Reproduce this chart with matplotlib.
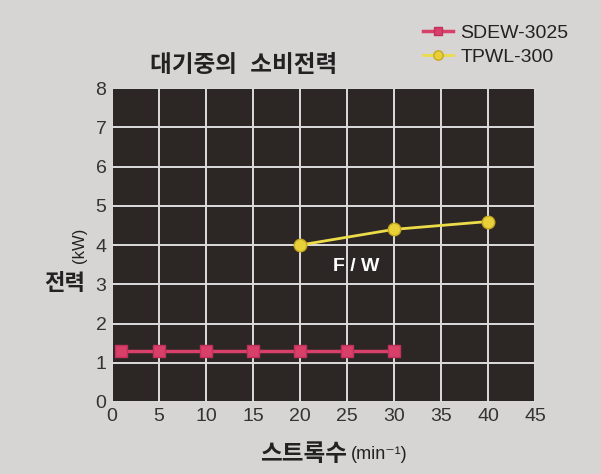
import matplotlib
matplotlib.use("Agg")
import matplotlib.pyplot as plt

sdew_x = [1, 5, 10, 15, 20, 25, 30]
sdew_y = [1.3, 1.3, 1.3, 1.3, 1.3, 1.3, 1.3]
tpwl_x = [20, 30, 40]
tpwl_y = [4.0, 4.4, 4.6]
x_ticks = [0, 5, 10, 15, 20, 25, 30, 35, 40, 45]
y_ticks = [0, 1, 2, 3, 4, 5, 6, 7, 8]
series_names = ["SDEW-3025", "TPWL-300"]
title = "대기중의  소비전력"

FONT = ["Liberation Sans", "Noto Sans CJK KR", "DejaVu Sans"]
plt.rcParams["font.family"] = FONT

fig = plt.figure(figsize=(6.01, 4.74), dpi=100, facecolor="#d6d5d3")
ax = fig.add_axes([0.1864, 0.152, 0.704, 0.662])
ax.set_facecolor("#2c2725")

ax.set_xlim(0, 45)
ax.set_ylim(0, 8)
ax.set_xticks(x_ticks)
ax.set_yticks(y_ticks)
ax.tick_params(length=0, labelsize=14, colors="#333333", pad=4)
for s in ax.spines.values():
    s.set_visible(False)
ax.grid(True, color="#dcdcdc", linewidth=1.4)
ax.set_axisbelow(True)

l1, = ax.plot(sdew_x, sdew_y, color="#d8406a", linewidth=2.5, marker="s",
              markersize=8, markerfacecolor="#d8406a", markeredgecolor="#c0305a",
              label=series_names[0], zorder=3)
l2, = ax.plot(tpwl_x, tpwl_y, color="#ecdc4a", linewidth=2, marker="o",
              markersize=9, markerfacecolor="#e8d038", markeredgecolor="#c8a820",
              label=series_names[1], zorder=3)

ax.text(26, 3.45, "F / W", color="white", fontsize=14, fontweight="bold",
        ha="center", va="center")

fig.text(0.405, 0.862, title, fontsize=17, fontweight="bold", color="#222222",
         ha="center", va="center")

fig.legend(handles=[l1, l2], loc="upper right", bbox_to_anchor=(0.975, 0.985),
           frameon=False, fontsize=14, handlelength=1.5, handletextpad=0.4,
           labelspacing=0.3, labelcolor="#222222", markerscale=0.75)

fig.text(0.133, 0.482, "(kW)", rotation=90, fontsize=12, color="#222222",
         ha="center", va="center")
fig.text(0.108, 0.400, "전력", fontsize=16, fontweight="bold", color="#222222",
         ha="center", va="center")

fig.text(0.578, 0.042, "스트록수", fontsize=17, fontweight="bold", color="#222222",
         ha="right", va="center")
fig.text(0.583, 0.042, "(min⁻¹)", fontsize=13, color="#222222",
         ha="left", va="center")

fig.savefig("out.png", dpi=100, facecolor=fig.get_facecolor())
